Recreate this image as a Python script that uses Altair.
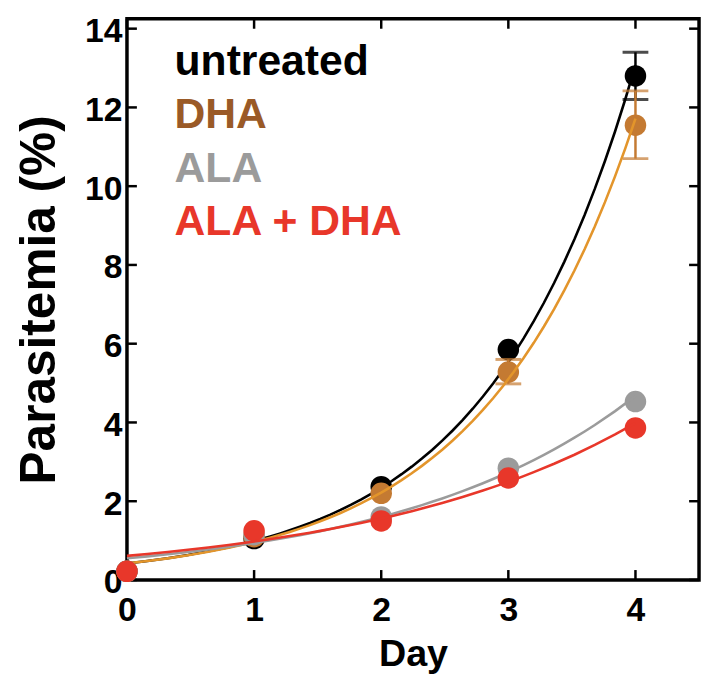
import altair as alt
import pandas as pd

days = [0, 1, 2, 3, 4]
series = ["untreated", "DHA", "ALA", "ALA + DHA"]
untreated = [0.22, 1.05, 2.37, 5.85, 12.8]
dha = [0.22, 1.1, 2.2, 5.28, 11.55]
ala = [0.22, 1.15, 1.6, 2.84, 4.53]
ala_dha = [0.22, 1.25, 1.5, 2.59, 3.86]

err_series = ["untreated", "DHA", "DHA"]
err_day = [4, 3, 4]
err_low = [12.2, 4.98, 10.7]
err_high = [13.4, 5.6, 12.42]

x_ticks = [0, 1, 2, 3, 4]
y_ticks = [0, 2, 4, 6, 8, 10, 12, 14]

point_colors = ["#000000", "#c47a32", "#9b9b9b", "#e8372a"]
line_colors = ["#000000", "#e3952b", "#9b9b9b", "#e8372a"]
text_colors = ["#000000", "#9a5a27", "#9b9b9b", "#e8372a"]

W, H = 577, 566
FONT = "Liberation Sans"

rows = []
for s, vals in zip(series, [untreated, dha, ala, ala_dha]):
    for d, v in zip(days, vals):
        rows.append({"series": s, "day": d, "val": v})
df = pd.DataFrame(rows)
err = pd.DataFrame({"series": err_series, "day": err_day, "lo": err_low, "hi": err_high})
xt = pd.DataFrame({"t": x_ticks})
yt = pd.DataFrame({"t": y_ticks})

xs = alt.Scale(domain=[0, 4.5], nice=False, zero=False, padding=0)
ys = alt.Scale(domain=[0, 14.25], nice=False, zero=False, padding=0)

X = alt.X("day:Q", scale=xs, title="Day",
          axis=alt.Axis(values=x_ticks, format="d", ticks=False, domain=False, grid=False,
                        labelFlush=False, labelPadding=14, titlePadding=8, titleFontSize=38))
Y = alt.Y("val:Q", scale=ys, title="Parasitemia (%)",
          axis=alt.Axis(values=y_ticks, format="d", ticks=False, domain=False, grid=False,
                        labelFlush=False, labelPadding=5, labelOffset=3,
                        titlePadding=20, titleFontSize=50))

label_expr = ("datum.value == 'DHA' ? '%s' : datum.value == 'ALA' ? '%s' : "
              "datum.value == 'ALA + DHA' ? '%s' : '%s'") % (text_colors[1], text_colors[2], text_colors[3], text_colors[0])

color_scale = alt.Scale(domain=series, range=point_colors)

layers = []
for i, s in enumerate(series):
    pts = df[df.series == s]
    e = err[err.series == s]
    base = alt.Chart(pts)
    if len(e):
        eb = alt.Chart(e)
        layers.append(eb.mark_rule(strokeWidth=2.5, color=point_colors[i]).encode(
            x=alt.X("day:Q", scale=xs), y=alt.Y("lo:Q", scale=ys), y2="hi:Q"))
        for f in ["lo", "hi"]:
            layers.append(eb.mark_tick(orient="horizontal", size=26, thickness=3,
                                       color=point_colors[i]).encode(
                x=alt.X("day:Q", scale=xs), y=alt.Y(f + ":Q", scale=ys)))
    legend = None
    if i == 0:
        legend = alt.Legend(orient="none", legendX=5, legendY=22, title=None,
                            symbolSize=0, symbolOpacity=0, symbolStrokeWidth=0,
                            labelFontSize=43, labelFont=FONT, labelFontWeight="bold",
                            labelOffset=0, rowPadding=10, padding=0,
                            labelColor=alt.ExprRef(label_expr), labelLimit=400)
    layers.append(base.mark_circle(size=470, opacity=1).encode(
        x=X, y=Y,
        color=alt.Color("series:N", scale=color_scale, legend=legend)))
    layers.append(base.mark_line(strokeWidth=2.6, color=line_colors[i]).transform_regression(
        "day", "val", method="exp", extent=[0, 4]).encode(
        x=alt.X("day:Q", scale=xs), y=alt.Y("val:Q", scale=ys)))

TL = 10
tick_layers = [
    alt.Chart(xt).mark_rule(color="black", strokeWidth=2.5).encode(
        x=alt.X("t:Q", scale=xs), y=alt.value(H - TL), y2=alt.value(H)),
    alt.Chart(xt).mark_rule(color="black", strokeWidth=2.5).encode(
        x=alt.X("t:Q", scale=xs), y=alt.value(0), y2=alt.value(TL)),
    alt.Chart(yt).mark_rule(color="black", strokeWidth=2.5).encode(
        y=alt.Y("t:Q", scale=ys), x=alt.value(0), x2=alt.value(TL)),
    alt.Chart(yt).mark_rule(color="black", strokeWidth=2.5).encode(
        y=alt.Y("t:Q", scale=ys), x=alt.value(W - TL), x2=alt.value(W)),
]

chart = alt.layer(*tick_layers, *layers).properties(
    width=W, height=H,
    autosize=alt.AutoSizeParams(type="none"),
    padding={"left": 120, "top": 8, "right": 3, "bottom": 100},
).configure_view(stroke="black", strokeWidth=3.5).configure_axis(
    labelFont=FONT, labelFontWeight="bold", labelFontSize=34, labelColor="black",
    titleFont=FONT, titleFontWeight="bold", titleColor="black",
)

chart.save("out.html", embed_options={"renderer": "svg", "actions": False})
